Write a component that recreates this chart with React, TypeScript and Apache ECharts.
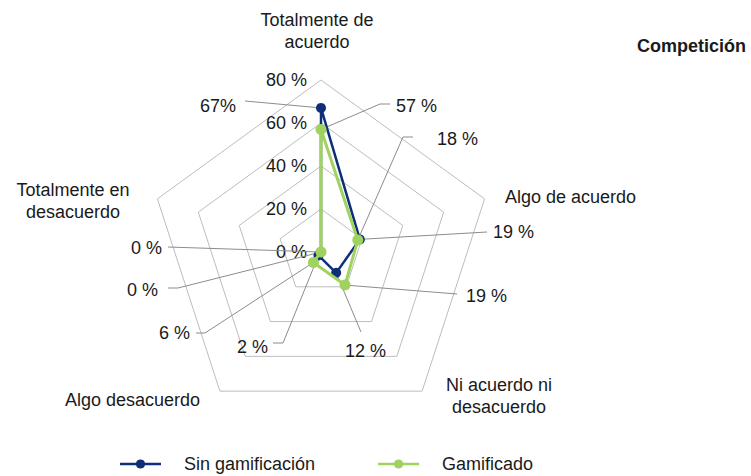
import React, { useEffect, useRef } from 'react';
import * as echarts from 'echarts';

// ---- data ----
const indicatorNames = [
  'Totalmente de\nacuerdo',
  'Algo de acuerdo',
  'Ni acuerdo ni\ndesacuerdo',
  'Algo desacuerdo',
  'Totalmente en\ndesacuerdo',
];
const seriesNames = ['Sin gamificación', 'Gamificado'];
const sinGamificacion = [67, 19, 12, 2, 0];
const gamificado = [57, 18, 19, 6, 0];
const axisTicks = [0, 20, 40, 60, 80];
const titleText = 'Competición';

// ---- layout / styles ----
const FONT = '"Liberation Sans", Arial, Helvetica, sans-serif';
const TEXT_COLOR = '#1a1a1a';
const COLORS = ['#0e2f78', '#9fd25f'];
const LEADER = '#8c8c8c';

// ECharts radar runs counter-clockwise; the reference runs clockwise
const radarOrder = [0, 4, 3, 2, 1];

// name label placement (text anchor, alignment)
const nameLayout = [
  { x: 317, y: 31, align: 'center' },
  { x: 505, y: 197, align: 'left' },
  { x: 499, y: 396, align: 'center' },
  { x: 200, y: 400, align: 'right' },
  { x: 73, y: 201, align: 'center' },
];

// data-label placement: series index, indicator index, text anchor, bend points of leader
const labelLayout = [
  { s: 0, i: 0, x: 236, y: 106, align: 'right', sep: '', path: [[245, 101]] },
  { s: 1, i: 0, x: 396, y: 106, align: 'left', sep: ' ', path: [[390, 104], [380, 104]] },
  { s: 1, i: 1, x: 437, y: 139, align: 'left', sep: ' ', path: [[413, 137], [403, 137]] },
  { s: 0, i: 1, x: 493, y: 232, align: 'left', sep: ' ', path: [[487, 232]] },
  { s: 1, i: 2, x: 466, y: 296, align: 'left', sep: ' ', path: [[457, 294]] },
  { s: 0, i: 2, x: 345, y: 351, align: 'left', sep: ' ', path: [[361, 332]] },
  { s: 1, i: 3, x: 190, y: 333, align: 'right', sep: ' ', path: [[196, 333], [205, 333]] },
  { s: 0, i: 3, x: 237, y: 347, align: 'left', sep: ' ', path: [[273, 343], [283, 343]] },
  { s: 0, i: 4, x: 162, y: 248, align: 'right', sep: ' ', path: [[168, 247]] },
  { s: 1, i: 4, x: 158, y: 290, align: 'right', sep: ' ', path: [[168, 288], [178, 288]] },
];

const LEGEND_ICON =
  'path://M0,4.75H15.677A4.5,4.5 0 0 1 24.323,4.75H40V7.25H24.323A4.5,4.5 0 0 1 15.677,7.25H0Z';

export default function App() {
  const ref = useRef<HTMLDivElement>(null);

  useEffect(() => {
    if (!ref.current) return;
    const chart = echarts.init(ref.current, null, { renderer: 'svg' });
    const seriesValues = [sinGamificacion, gamificado];
    const maxV = axisTicks[axisTicks.length - 1];

    chart.setOption({
      animation: false,
      title: {
        text: titleText,
        right: 0,
        top: 32,
        textStyle: { fontFamily: FONT, fontSize: 18, fontWeight: 'bold', color: TEXT_COLOR },
      },
      legend: {
        data: seriesNames,
        left: 115,
        top: 450,
        itemWidth: 41,
        itemHeight: 12,
        itemGap: 63,
        icon: LEGEND_ICON,
        textStyle: { fontFamily: FONT, fontSize: 18, color: TEXT_COLOR, padding: [0, 0, 0, 18] },
      },
      radar: {
        center: [321, 252],
        radius: 172,
        startAngle: 90,
        shape: 'polygon',
        splitNumber: axisTicks.length - 1,
        axisName: { show: false },
        axisLine: { show: false },
        axisTick: { show: false },
        axisLabel: { show: false },
        splitArea: { show: false },
        splitLine: { lineStyle: { color: '#bdbdbd', width: 1 } },
        indicator: radarOrder.map((idx, k) => ({
          name: indicatorNames[idx],
          min: axisTicks[0],
          max: maxV,
          ...(k === 0
            ? {
                axisLabel: {
                  show: true,
                  formatter: '{value} %',
                  margin: 14,
                  fontFamily: FONT,
                  fontSize: 18,
                  color: TEXT_COLOR,
                },
              }
            : {}),
        })),
      },
      series: seriesNames.map((name, s) => ({
        type: 'radar',
        name,
        z: 2 + s,
        symbol: 'circle',
        symbolSize: s === 0 ? 10 : 11,
        lineStyle: { color: COLORS[s], width: s === 0 ? 2.5 : 3 },
        itemStyle: { color: COLORS[s] },
        data: [{ name, value: radarOrder.map((idx) => seriesValues[s][idx]) }],
      })),
    });

    const model: any = (chart as any).getModel();
    const radar: any = model.getComponent('radar', 0).coordinateSystem;
    const elements: any[] = [];

    nameLayout.forEach((p, i) => {
      elements.push({
        type: 'text',
        x: p.x,
        y: p.y,
        z: 10,
        silent: true,
        style: {
          text: indicatorNames[i],
          fill: TEXT_COLOR,
          fontFamily: FONT,
          fontSize: 18,
          lineHeight: 22,
          align: p.align,
          textAlign: p.align,
          verticalAlign: 'middle',
          textVerticalAlign: 'middle',
        },
      });
    });

    labelLayout.forEach((l) => {
      const v = seriesValues[l.s][l.i];
      const pt = radar.dataToPoint(v, radarOrder.indexOf(l.i));
      elements.push({
        type: 'polyline',
        z: 1,
        silent: true,
        shape: { points: [...l.path, [pt[0], pt[1]]] },
        style: { stroke: LEADER, lineWidth: 1, fill: null },
      });
      elements.push({
        type: 'text',
        x: l.x,
        y: l.y,
        z: 10,
        silent: true,
        style: {
          text: `${v}${l.sep}%`,
          fill: TEXT_COLOR,
          fontFamily: FONT,
          fontSize: 18,
          align: l.align,
          textAlign: l.align,
          verticalAlign: 'middle',
          textVerticalAlign: 'middle',
        },
      });
    });

    chart.setOption({ graphic: elements });

    return () => chart.dispose();
  }, []);

  return (
    <div
      ref={ref}
      style={{ position: 'absolute', left: 0, top: 0, width: 751, height: 476, background: '#fff' }}
    />
  );
}
